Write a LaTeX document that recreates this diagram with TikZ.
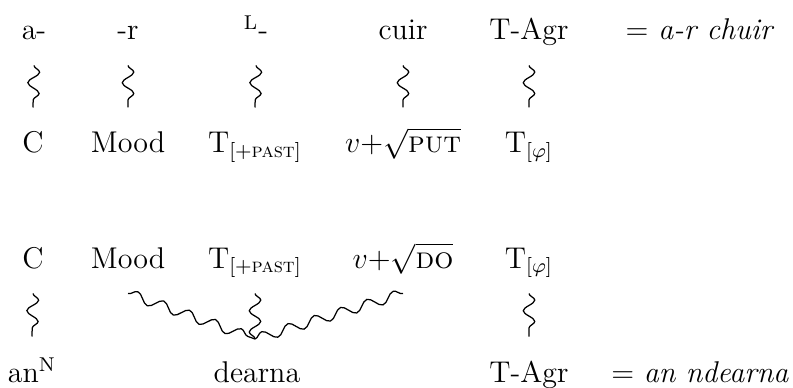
\documentclass[tikz,border=0pt]{standalone}
\usepackage{amsmath}
\usetikzlibrary{decorations.pathmorphing}
\tikzset{
  word/.style={anchor=base,inner sep=0pt,text height=9pt,text depth=3pt,font=\fontsize{12}{14}\selectfont},
  squig/.style={draw=black,line width=0.5pt,decorate,decoration={snake,segment length=8.5pt,amplitude=2.3pt}},
  longsquig/.style={squig,decoration={snake,segment length=11pt,amplitude=2pt}}
}

\begin{document}
\begin{tikzpicture}[x=0.4pt,y=0.4pt]
  \useasboundingbox (0,0) rectangle (793,387);
  % surface forms
  \node[word] (t1) at (34,347) {a-};
  \node[word] (t2) at (128,347) {-r};
  \node[word] (t3) at (256,347) {\textsuperscript{L}-};
  \node[word] (t4) at (403,347) {cuir};
  \node[word] (t5) at (529,347) {T-Agr};
  \node[word] (t6) at (700,347) {$=$ \textit{a-r chuir}};
  % heads, first
  \node[word] (m1) at (33,234) {C};
  \node[word] (m2) at (128,234) {Mood};
  \node[word] (m3) at (255,234) {T$_{[+\text{\textsc{past}}]}$};
  \node[word] (m4) at (403,234) {$v{+}\sqrt{\text{\textsc{put}}}$};
  \node[word] (m5) at (529,234) {T$_{[\varphi]}$};
  % heads, second
  \node[word] (l1) at (33,119) {C};
  \node[word] (l2) at (128,119) {Mood};
  \node[word] (l3) at (255,119) {T$_{[+\text{\textsc{past}}]}$};
  \node[word] (l4) at (403,119) {$v{+}\sqrt{\text{\textsc{do}}}$};
  \node[word] (l5) at (529,119) {T$_{[\varphi]}$};
  % surface forms, second
  \node[word] (b1) at (32,5) {an\textsuperscript{N}};
  \node[word] (b3) at (257,5) {dearna};
  \node[word] (b5) at (529,5) {T-Agr};
  \node[word] (b6) at (700,5) {$=$ \textit{an ndearna}};
  \coordinate (dip) at (255,48);

  \draw[squig] ([yshift=-7pt]t1.south) -- ([yshift=9pt]m1.north);
  \draw[squig] ([yshift=-7pt]t2.south) -- ([yshift=9pt]m2.north);
  \draw[squig] ([yshift=-7pt]t3.south) -- ([yshift=9pt]m3.north);
  \draw[squig] ([yshift=-7pt]t4.south) -- ([yshift=9pt]m4.north);
  \draw[squig] ([yshift=-7pt]t5.south) -- ([yshift=9pt]m5.north);

  \draw[squig] ([yshift=-7pt]l1.south) -- ([yshift=9pt]b1.north);
  \draw[squig] ([yshift=-7pt]l5.south) -- ([yshift=9pt]b5.north);
  \draw[longsquig] ([yshift=-7pt]l2.south) -- (dip);
  \draw[squig] ([yshift=-7pt]l3.south) -- (dip);
  \draw[longsquig] (dip) -- ([yshift=-7pt]l4.south);
\end{tikzpicture}
\end{document}
